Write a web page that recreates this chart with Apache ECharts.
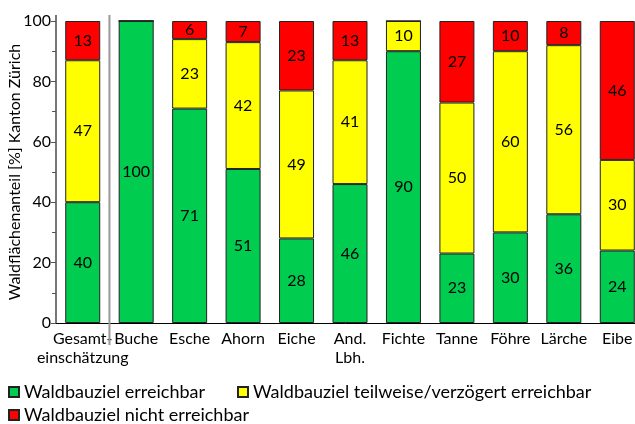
<!DOCTYPE html>
<html><head><meta charset="utf-8">
<script src="https://cdn.jsdelivr.net/npm/echarts@6/dist/echarts.min.js"></script>
<style>html,body{margin:0;padding:0;background:#fff}#c{width:635px;height:424px}</style>
</head><body><div id="c"></div>
<script>
const categories = ['Gesamt-\neinschätzung','Buche','Esche','Ahorn','Eiche','And.\nLbh.','Fichte','Tanne','Föhre','Lärche','Eibe'];
const erreichbar = [40,100,71,51,28,46,90,23,30,36,24];
const teilweise = [47,0,23,42,49,41,10,50,60,56,30];
const nicht = [13,0,6,7,23,13,0,27,10,8,46];
const seriesNames = ['Waldbauziel erreichbar','Waldbauziel teilweise/verzögert erreichbar','Waldbauziel nicht erreichbar'];
const colors = ['#00CC50','#FFFF00','#FF0000'];
const FONT = 'Lato';
const chart = echarts.init(document.getElementById('c'));
function mk(i, data){
  return {
    name: seriesNames[i], type:'bar', stack:'a', data: data, barWidth: 35,
    itemStyle:{color:colors[i], borderColor:'#222', borderWidth:1},
    label:{show:true, position:'inside', color:'#000', fontSize:16, fontFamily:FONT,
      formatter: p => p.value ? String(p.value) : ''}
  };
}
const legendCommon = {itemWidth:10, itemHeight:10, icon:'rect', textStyle:{fontSize:18, fontFamily:FONT, color:'#000'}, itemGap:4};
chart.setOption({
  animation:false,
  grid:{left:56, right:-9, top:21, bottom:101, outerBoundsMode:'none', containLabel:false},
  legend:[
    Object.assign({left:3, top:378, data:[seriesNames[0]]}, legendCommon),
    Object.assign({left:232, top:378, data:[seriesNames[1]]}, legendCommon),
    Object.assign({left:3, top:401, data:[seriesNames[2]]}, legendCommon)
  ],
  xAxis:{type:'category', data:categories,
    axisLine:{lineStyle:{color:'#000', width:1}},
    axisTick:{show:false},
    axisLabel:{color:'#000', fontSize:16, fontFamily:FONT, margin:6, lineHeight:19, interval:0}
  },
  yAxis:{type:'value', min:0, max:100, interval:20,
    name:'Waldflächenanteil [%] Kanton Zürich', nameLocation:'middle', nameGap:33, nameMoveOverlap:false,
    nameTextStyle:{color:'#000', fontSize:16, fontFamily:FONT},
    axisLine:{show:true, lineStyle:{color:'#777', width:2}},
    axisTick:{show:true, length:5, lineStyle:{color:'#555'}},
    minorTick:{show:true, splitNumber:2, length:4, lineStyle:{color:'#555'}},
    splitLine:{show:false},
    axisLabel:{color:'#000', fontSize:16, fontFamily:FONT, margin:5}
  },
  series:[mk(0,erreichbar), mk(1,teilweise), mk(2,nicht),
    {type:'custom', silent:true, data:[[0,0]], z:1,
     renderItem:(params, api)=>{
       const a = api.coord([0,0]), b = api.coord([1,0]), t = api.coord([0,100]);
       const x = (a[0]+b[0])/2;
       return {type:'line', shape:{x1:x, y1:t[1]-6, x2:x, y2:a[1]+22}, style:{stroke:'#999', lineWidth:2}};
     }},
    {type:'custom', silent:true, data:[[0,0]], z:1,
     renderItem:(params, api)=>{
       const a = api.coord([0,100]);
       const x = params.coordSys.x;
       return {type:'line', shape:{x1:x, y1:a[1]-6, x2:x, y2:a[1]}, style:{stroke:'#777', lineWidth:2}};
     }}
  ]
});
</script></body></html>
